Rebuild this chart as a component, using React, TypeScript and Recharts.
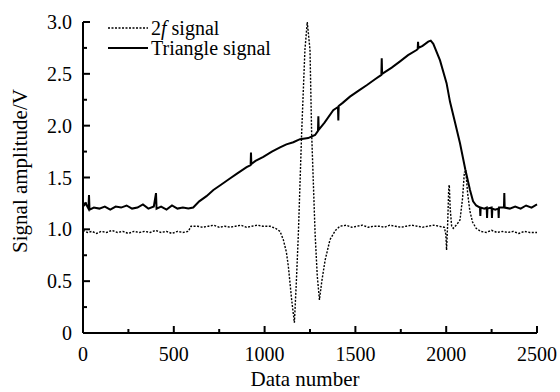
import React from "react";
import { LineChart, Line, XAxis, YAxis } from "recharts";

// triangle (ramp) signal
const triX = [
  0, 15, 30, 33, 36, 60, 90, 120, 150, 180,
  210, 240, 270, 300, 330, 360, 390, 402, 405, 430,
  460, 490, 520, 550, 580, 607, 640, 680, 718, 760,
  809, 850, 901, 923, 925, 927, 950, 993, 1040, 1085,
  1120, 1158, 1195, 1240, 1278, 1294, 1296, 1298, 1330, 1378,
  1404, 1406, 1408, 1430, 1470, 1520, 1562, 1610, 1643, 1645,
  1647, 1700, 1746, 1790, 1837, 1843, 1845, 1847, 1870, 1901,
  1915, 1929, 1966, 2002, 2021, 2050, 2076, 2105, 2131, 2148,
  2165, 2186, 2188, 2190, 2210, 2223, 2225, 2227, 2250, 2252,
  2254, 2270, 2287, 2289, 2291, 2318, 2320, 2322, 2350, 2380,
  2410, 2440, 2470, 2500,
];
const triY = [
  1.22, 1.25, 1.2, 1.33, 1.19, 1.21, 1.2, 1.22, 1.19, 1.22,
  1.21, 1.23, 1.2, 1.21, 1.24, 1.2, 1.22, 1.35, 1.2, 1.22,
  1.19, 1.23, 1.2, 1.21, 1.2, 1.21, 1.27, 1.32, 1.38, 1.43,
  1.49, 1.54, 1.6, 1.62, 1.74, 1.63, 1.66, 1.7, 1.75, 1.79,
  1.82, 1.84, 1.87, 1.88, 1.91, 1.95, 2.09, 1.96, 2.03, 2.15,
  2.18, 2.05, 2.19, 2.22, 2.28, 2.34, 2.39, 2.45, 2.49, 2.65,
  2.5, 2.56, 2.62, 2.68, 2.73, 2.74, 2.81, 2.75, 2.77, 2.81,
  2.82, 2.79, 2.63, 2.41, 2.23, 2.02, 1.83, 1.58, 1.38, 1.27,
  1.23, 1.21, 1.13, 1.21, 1.2, 1.21, 1.11, 1.2, 1.21, 1.11,
  1.2, 1.19, 1.2, 1.11, 1.21, 1.21, 1.35, 1.21, 1.2, 1.22,
  1.2, 1.23, 1.21, 1.24,
];

// 2f signal
const sigX = [
  0, 25, 50, 75, 100, 130, 160, 190, 220, 250,
  280, 310, 340, 370, 400, 430, 460, 490, 520, 550,
  580, 595, 630, 660, 690, 720, 750, 780, 810, 840,
  870, 900, 930, 960, 990, 1030, 1060, 1085, 1103, 1120,
  1131, 1149, 1164, 1175, 1186, 1204, 1222, 1235, 1250, 1259,
  1278, 1290, 1302, 1315, 1333, 1360, 1390, 1415, 1450, 1480,
  1510, 1540, 1570, 1600, 1630, 1660, 1690, 1720, 1750, 1780,
  1810, 1840, 1870, 1900, 1930, 1960, 1990, 1998, 2002, 2008,
  2014, 2017, 2022, 2030, 2039, 2060, 2076, 2090, 2100, 2108,
  2118, 2130, 2145, 2165, 2190, 2220, 2250, 2280, 2310, 2340,
  2370, 2400, 2430, 2460, 2500,
];
const sigY = [
  0.99, 0.97, 0.98, 0.96, 0.98, 0.97, 0.99, 0.97, 0.98, 0.96,
  0.98, 0.97, 0.98, 0.97, 0.99, 0.97, 0.98, 0.96, 0.98, 0.97,
  0.98, 1.03, 1.03, 1.02, 1.03, 1.04, 1.02, 1.03, 1.02, 1.03,
  1.04, 1.02, 1.03, 1.04, 1.03, 1.03, 1.01, 0.98, 0.9, 0.78,
  0.64, 0.32, 0.1, 0.5, 0.96, 1.93, 2.73, 3.0, 2.73, 1.93,
  0.96, 0.55, 0.32, 0.5, 0.7, 0.9, 0.99, 1.03, 1.04, 1.02,
  1.03, 1.04, 1.02, 1.03, 1.03, 1.02, 1.04, 1.03, 1.02, 1.03,
  1.04, 1.03, 1.02, 1.03, 1.04, 1.03, 1.02, 0.95, 0.8, 1.05,
  1.4, 1.43, 1.2, 1.03, 1.01, 1.05, 1.09, 1.3, 1.55, 1.56,
  1.35, 1.18, 1.07, 1.01, 0.98, 0.97, 0.99, 0.97, 0.98, 0.97,
  0.98, 0.96, 0.98, 0.97, 0.97,
];

const xTicks = [0, 250, 500, 750, 1000, 1250, 1500, 1750, 2000, 2250, 2500];
const yTicks = [0, 0.25, 0.5, 0.75, 1, 1.25, 1.5, 1.75, 2, 2.25, 2.5, 2.75, 3];

const triData = triX.map((x, i) => ({ x, y: triY[i] }));
const sigData = sigX.map((x, i) => ({ x, y: sigY[i] }));

const FONT = "'Liberation Serif', 'Times New Roman', serif";

const XTick = (props: any) => {
  const { x, y, payload } = props;
  const major = payload.value % 500 === 0;
  return (
    <g>
      <line x1={x} y1={y} x2={x} y2={y - (major ? 7 : 4)} stroke="#000" strokeWidth={2} />
      {major && (
        <text x={x} y={y + 28} textAnchor="middle" style={{ fontFamily: FONT, fontSize: 20 }} fill="#000">
          {payload.value}
        </text>
      )}
    </g>
  );
};

const YTick = (props: any) => {
  const { x, y, payload } = props;
  const v = payload.value;
  const major = Math.abs(v * 2 - Math.round(v * 2)) < 1e-6;
  return (
    <g>
      <line x1={x} y1={y} x2={x + (major ? 7 : 4)} y2={y} stroke="#000" strokeWidth={2} />
      {major && (
        <text x={x - 11} y={y + 7} textAnchor="end" style={{ fontFamily: FONT, fontSize: 20 }} fill="#000">
          {v === 0 ? "0" : v.toFixed(1)}
        </text>
      )}
    </g>
  );
};

const XLabel = () => (
  <text x={305} y={386} textAnchor="middle" style={{ fontFamily: FONT, fontSize: 21 }} fill="#000">
    Data number
  </text>
);

const YLabel = () => (
  <text
    x={20}
    y={171}
    transform="rotate(-90 20 171)"
    textAnchor="middle"
    dominantBaseline="central"
    style={{ fontFamily: FONT, fontSize: 21 }}
    fill="#000"
  >
    Signal amplitude/V
  </text>
);

export default function App() {
  return (
    <div style={{ position: "absolute", left: 0, top: 0, width: 560, height: 392, background: "#fff", fontFamily: FONT }}>
      <LineChart
        width={560}
        height={392}
        margin={{ top: 22, right: 23, bottom: 0, left: 0 }}
      >
        <XAxis
          type="number"
          dataKey="x"
          domain={[0, 2500]}
          ticks={xTicks}
          interval={0}
          height={59}
          tickSize={0}
          tickMargin={0}
          tick={XTick}
          axisLine={{ stroke: "#000", strokeWidth: 2 }}
          label={XLabel}
        />
        <YAxis
          type="number"
          domain={[0, 3]}
          ticks={yTicks}
          interval={0}
          width={83}
          tickSize={0}
          tickMargin={0}
          tick={YTick}
          axisLine={{ stroke: "#000", strokeWidth: 2 }}
          label={YLabel}
        />
        <Line
          data={sigData}
          dataKey="y"
          type="linear"
          stroke="#000"
          strokeWidth={1.4}
          strokeDasharray="2 1.5"
          dot={false}
          isAnimationActive={false}
        />
        <Line
          data={triData}
          dataKey="y"
          type="linear"
          stroke="#000"
          strokeWidth={2}
          dot={false}
          isAnimationActive={false}
        />
      </LineChart>
      <div style={{ position: "absolute", left: 108, top: 18, fontFamily: FONT, fontSize: 20, lineHeight: "20px", color: "#000" }}>
        <div style={{ display: "flex", alignItems: "center", height: 20 }}>
          <svg width={40} height={4} style={{ marginRight: 3 }}>
            <line x1={0} y1={2} x2={40} y2={2} stroke="#000" strokeWidth={1.4} strokeDasharray="2 1.5" />
          </svg>
          <span>2<i>f</i> signal</span>
        </div>
        <div style={{ display: "flex", alignItems: "center", height: 20 }}>
          <svg width={40} height={4} style={{ marginRight: 3 }}>
            <line x1={0} y1={2} x2={40} y2={2} stroke="#000" strokeWidth={2} />
          </svg>
          <span>Triangle signal</span>
        </div>
      </div>
    </div>
  );
}
